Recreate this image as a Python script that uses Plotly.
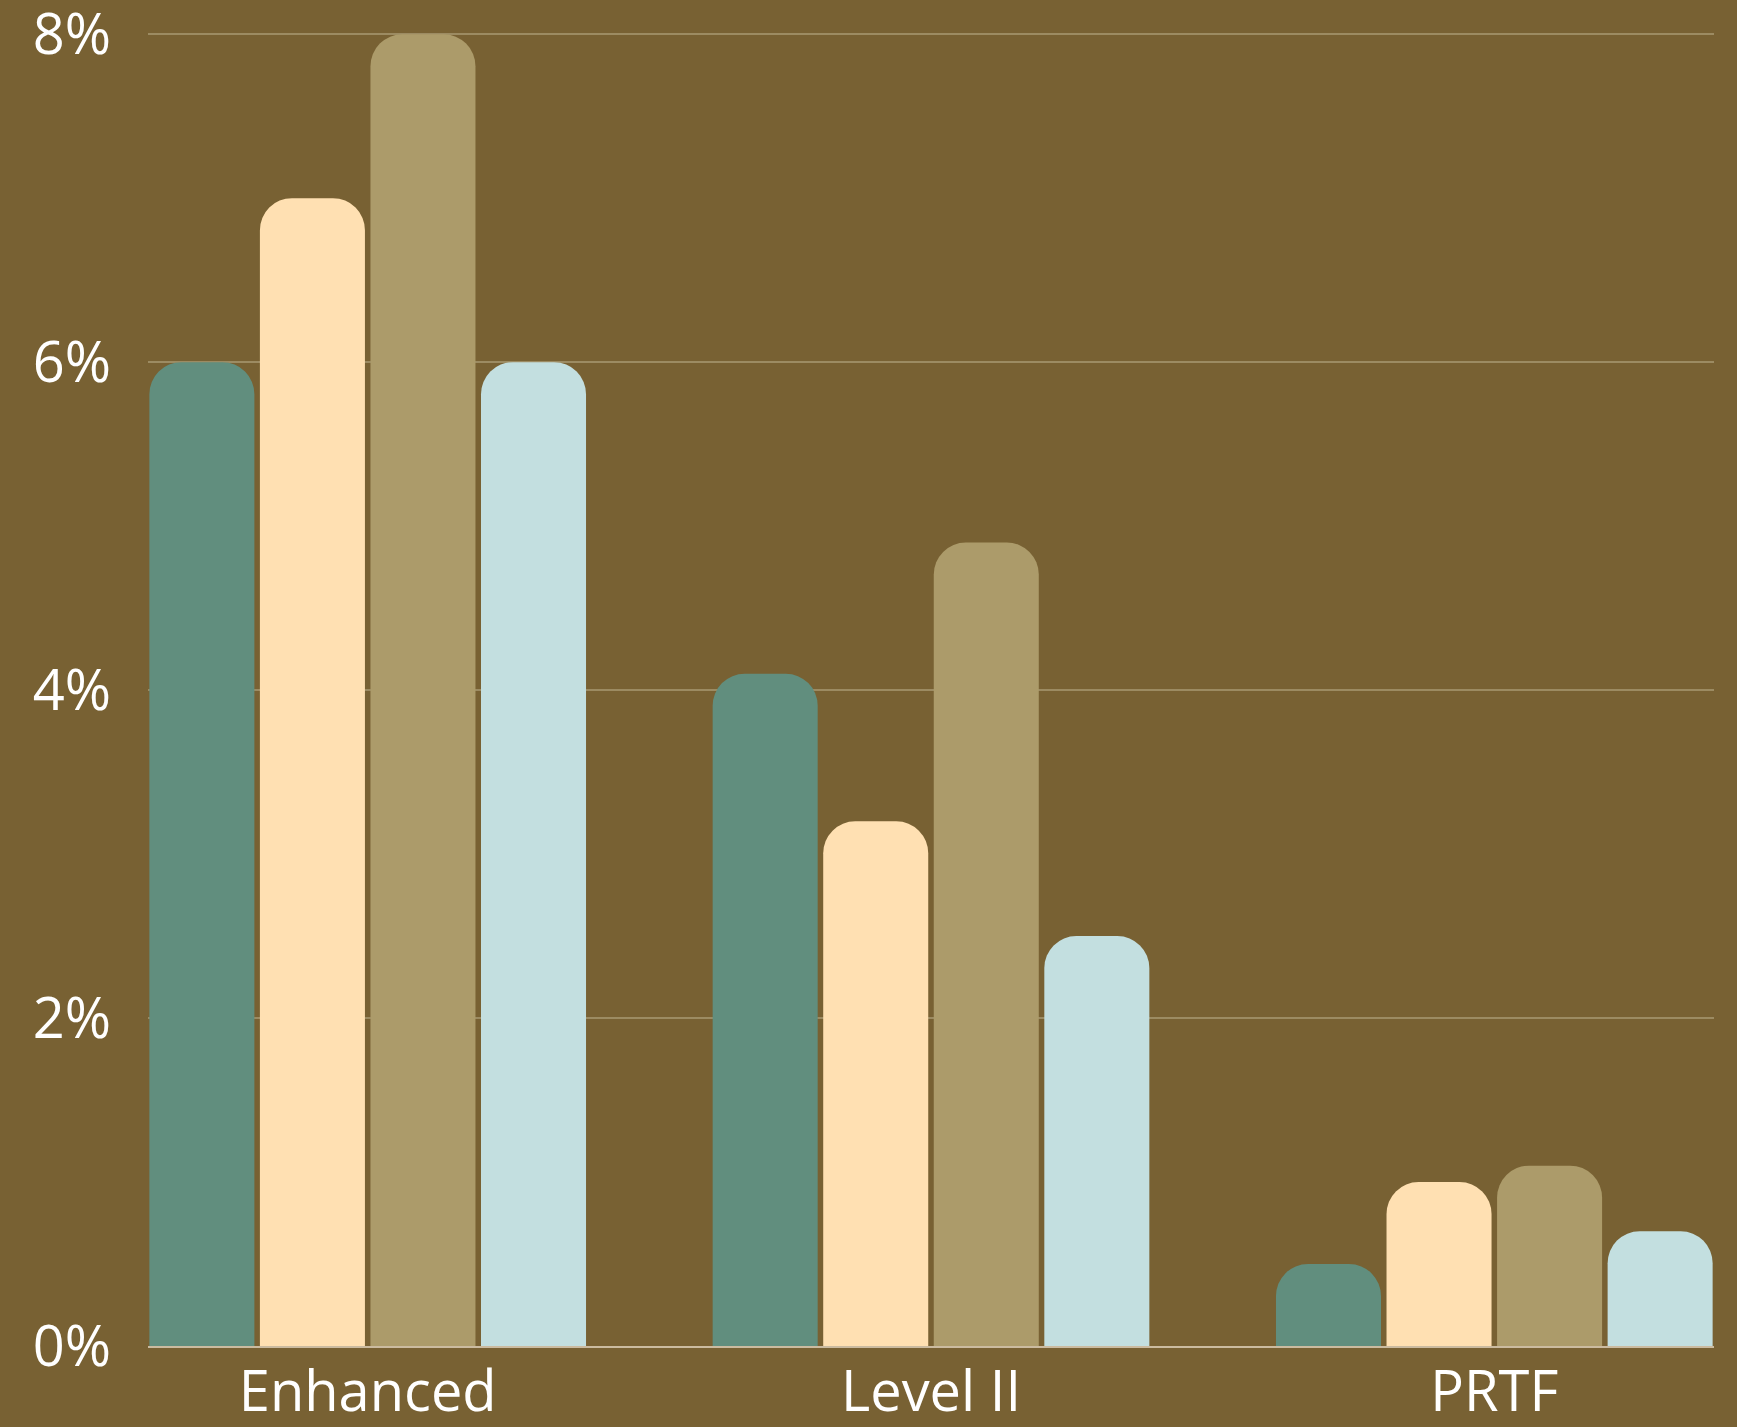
import plotly.graph_objects as go

categories = ["Enhanced", "Level II", "PRTF"]
series_a = [6.0, 4.1, 0.5]
series_b = [7.0, 3.2, 1.0]
series_c = [8.0, 4.9, 1.1]
series_d = [6.0, 2.5, 0.7]

y_ticks = [0, 2, 4, 6, 8]
y_labels = ["0%", "2%", "4%", "6%", "8%"]

colors = ["#618E7E", "#FFE0B2", "#AC9B6A", "#C3DFE0"]

fig = go.Figure()
for vals, col in zip([series_a, series_b, series_c, series_d], colors):
    fig.add_trace(go.Bar(
        x=categories, y=vals,
        marker=dict(color=col, line_width=0, cornerradius=32),
        showlegend=False,
    ))

fig.update_layout(
    width=1737, height=1427,
    barmode="group", bargap=0.215, bargroupgap=0.05,
    paper_bgcolor="#786133", plot_bgcolor="#786133",
    margin=dict(l=148, r=23, t=26, b=81, autoexpand=False),
    font=dict(family="Open Sans", color="white", size=56),
    xaxis=dict(
        range=[-0.39, 2.39], showgrid=False, ticks="",
        ticklabelstandoff=-4, automargin=False,
        showline=True, linecolor="#CBBBA0", linewidth=2,
    ),
    yaxis=dict(
        range=[0, 8.05], tickmode="array", tickvals=y_ticks, ticktext=y_labels,
        gridcolor="#9C8B62", gridwidth=1.5, automargin=False,
        ticklabeloverflow="allow",
        zeroline=False, ticklabelstandoff=36,
    ),
)

fig.write_html(
    "out.html",
    config={"displayModeBar": False},
    post_script="document.body.style.margin='0';document.body.style.overflow='hidden';",
)
